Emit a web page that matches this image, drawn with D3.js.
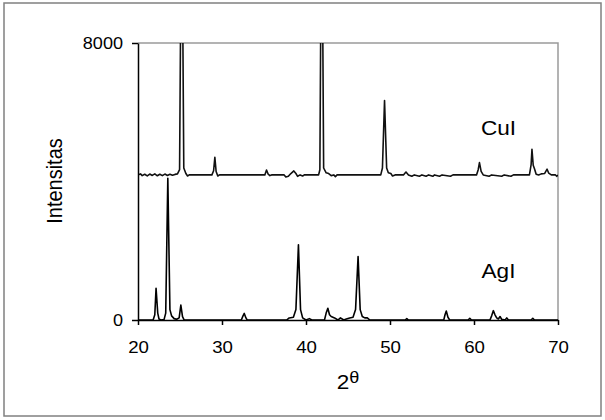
<!DOCTYPE html>
<html>
<head>
<meta charset="utf-8">
<script src="https://cdn.jsdelivr.net/npm/d3@7"></script>
<style>
  body { margin: 0; background: #fff; }
  svg text { font-family: "Liberation Sans", Arial, sans-serif; fill: #000; }
</style>
</head>
<body>
<div class="plot"></div>
<script>
// XRD patterns: [2theta, counts]
// CuI is drawn shifted up by cuiOffset so both traces fit in one frame
const cuiOffset = 4190;
const cuiTrace = [
  [20,0],[20.3,30],[20.5,-20],[20.8,20],[21.1,-30],[21.4,25],[21.7,-15],[22,30],[22.3,-25],[22.6,20],
  [22.9,-20],[23.2,25],[23.5,-15],[23.8,20],[24.1,-10],[24.4,15],[24.7,30],[24.95,150],[25.2,9000],[25.45,200],
  [25.7,40],[25.9,-30],[26.1,0],[28.8,0],[29.0,120],[29.15,510],[29.3,100],[29.5,-30],[29.7,0],
  [35.1,0],[35.3,140],[35.5,20],[35.7,-20],[35.9,0],[37.4,0],[37.6,-60],[37.9,-40],[38.2,40],[38.55,115],
  [38.8,40],[39.0,-40],[39.3,0],[39.6,-30],[39.8,0],[41.5,0],[41.65,150],[41.87,9000],[42.1,200],[42.4,60],
  [42.7,40],[43.0,-20],[43.3,0],[43.5,-50],[43.7,0],[48.9,0],[49.1,200],[49.35,2150],[49.6,200],[49.8,60],
  [50.1,40],[50.3,-30],[50.6,0],[51.6,0],[51.9,85],[52.2,0],[52.6,-40],[52.9,0],[53.5,-40],[53.8,0],
  [54.3,-40],[54.6,0],[55.1,-40],[55.3,0],[55.9,-40],[56.2,0],[57.2,-40],[57.5,0],[60.3,0],[60.5,150],
  [60.65,355],[60.85,100],[61.1,0],[61.8,-40],[62.1,0],[63.3,-40],[63.6,0],[64.4,-40],[64.7,0],[66.6,0],
  [66.8,300],[66.9,740],[67.05,280],[67.2,180],[67.4,20],[67.7,0],[68.0,30],[68.4,40],[68.7,165],[68.9,50],
  [69.2,0],[69.7,0],[69.85,-40],[70,0]
];
const agiTrace = [
  [20,0],[21.8,0],[22.0,150],[22.15,915],[22.35,200],[22.5,30],[22.7,0],[23.1,10],[23.3,200],[23.55,4090],
  [23.8,300],[24.0,120],[24.3,40],[24.6,20],[24.9,60],[25.1,430],[25.3,100],[25.5,0],[32.3,0],[32.5,120],
  [32.65,190],[32.85,60],[33.0,0],[37.7,0],[38.0,60],[38.5,80],[38.8,300],[39.1,2170],[39.35,300],[39.6,60],
  [40.0,0],[40.4,40],[40.7,0],[42.2,0],[42.4,200],[42.6,340],[42.8,150],[43.0,100],[43.4,60],[43.8,0],
  [44.1,60],[44.5,0],[44.8,30],[45.2,60],[45.6,80],[45.9,300],[46.2,1830],[46.45,300],[46.7,100],[47.0,60],
  [47.3,60],[47.6,0],[51.8,0],[52.0,40],[52.2,0],[56.4,0],[56.55,150],[56.7,260],[56.9,80],[57.1,0],
  [59.3,0],[59.5,50],[59.7,0],[61.9,0],[62.1,120],[62.3,270],[62.5,150],[62.7,60],[62.9,30],[63.1,100],
  [63.3,20],[63.7,0],[63.9,60],[64.1,0],[66.8,0],[67.0,50],[67.2,0],[70,0]
];
const xTicks = [20, 30, 40, 50, 60, 70];
const yTicks = [0, 8000];
const seriesLabels = ['CuI', 'AgI'];

const W = 605, H = 420;
const margin = {top: 43, right: 47, bottom: 100, left: 138};
const sx = 1.13; // the source picture is a bit stretched sideways

const svg = d3.select('.plot').append('svg')
  .attr('width', W)
  .attr('height', H);

// outer frame
svg.append('rect')
  .attr('x', 4).attr('y', 3)
  .attr('width', 597).attr('height', 413)
  .style('fill', '#fff')
  .style('stroke', '#808080')
  .style('stroke-width', 1.5);

const x = d3.scaleLinear().domain([20, 70]).range([margin.left, W - margin.right]);
const y = d3.scaleLinear().domain([0, 8000]).range([H - margin.bottom, margin.top]);

svg.append('clipPath').attr('id', 'clip')
  .append('rect')
  .attr('x', x(20)).attr('y', y(8000))
  .attr('width', x(70) - x(20)).attr('height', y(0) - y(8000));

// top and right edges of plot area
svg.append('path')
  .attr('d', 'M' + x(20) + ',' + y(8000) + 'H' + x(70) + 'V' + y(0))
  .style('fill', 'none')
  .style('stroke', '#9a9a9a')
  .style('stroke-width', 1.5);

const line = d3.line()
  .x(function(d){ return x(d[0]); })
  .y(function(d){ return y(d[1]); });

svg.append('path').datum(cuiTrace.map(function(d){ return [d[0], d[1] + cuiOffset]; }))
  .attr('d', line)
  .attr('clip-path', 'url(#clip)')
  .style('fill', 'none')
  .style('stroke', '#111')
  .style('stroke-width', 1.6)
  .style('stroke-linejoin', 'round');

svg.append('path').datum(agiTrace)
  .attr('d', line)
  .attr('clip-path', 'url(#clip)')
  .style('fill', 'none')
  .style('stroke', '#000')
  .style('stroke-width', 1.6)
  .style('stroke-linejoin', 'round');

// axes
const yAxis = svg.append('g')
  .attr('transform', 'translate(' + x(20) + ',0)')
  .call(d3.axisLeft(y).tickValues(yTicks).tickFormat(d3.format('d')).tickSize(6).tickSizeOuter(0));
yAxis.selectAll('text')
  .attr('x', -15 / sx)
  .attr('transform', 'scale(' + sx + ',1)')
  .style('font-size', '16px');

const xAxis = svg.append('g')
  .attr('transform', 'translate(0,' + y(0) + ')')
  .call(d3.axisBottom(x).tickValues(xTicks).tickSize(5).tickSizeOuter(0));
xAxis.selectAll('text')
  .attr('y', 21)
  .attr('x', 0)
  .attr('transform', 'scale(' + sx + ',1)')
  .style('font-size', '16.5px');

svg.selectAll('.domain, .tick line')
  .style('stroke', '#000')
  .style('stroke-width', 1.5);

// titles
svg.append('text')
  .attr('transform', 'translate(62,181) scale(' + sx + ',1) rotate(-90)')
  .attr('text-anchor', 'middle')
  .style('font-size', '20px')
  .text('Intensitas');

const xt = svg.append('text')
  .attr('transform', 'translate(348,389) scale(' + sx + ',1)')
  .attr('text-anchor', 'middle')
  .style('font-size', '20px');
xt.append('tspan').text('2');
xt.append('tspan').attr('dy', -6).style('font-size', '16px').text('θ');

// series labels
svg.selectAll('.series-label').data(seriesLabels).enter().append('text')
  .attr('class', 'series-label')
  .attr('transform', function(d, i){
    return 'translate(' + 498.5 + ',' + (i === 0 ? 135 : 278) + ') scale(' + sx + ',1)';
  })
  .attr('text-anchor', 'middle')
  .style('font-size', '20px')
  .text(function(d){ return d; });
</script>
</body>
</html>
